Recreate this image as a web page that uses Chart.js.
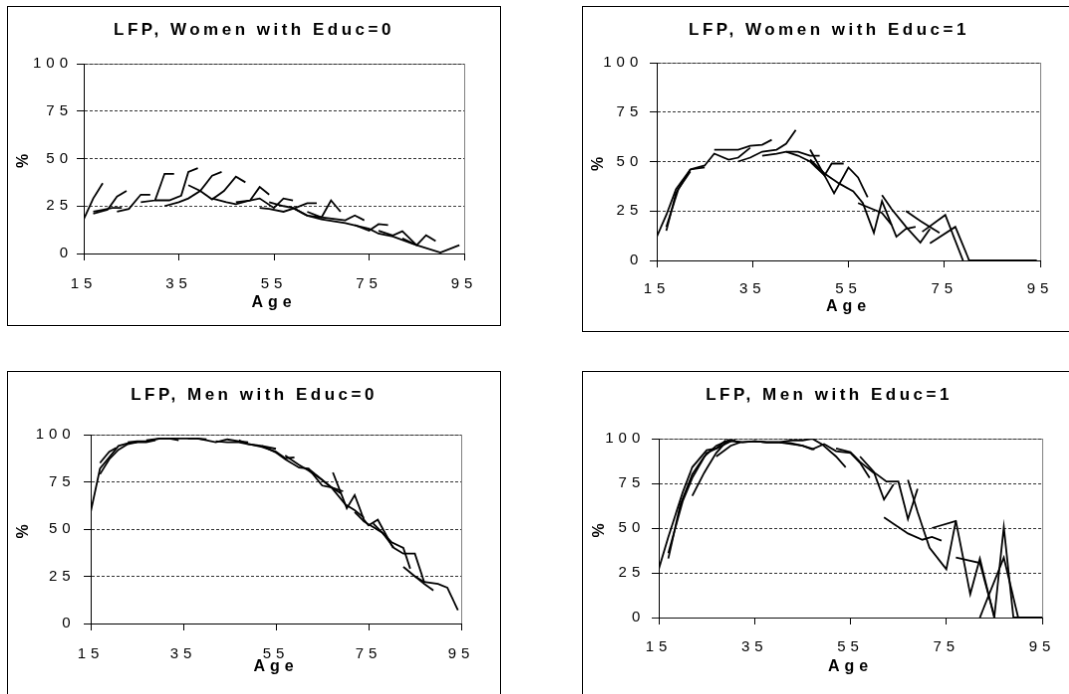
<!DOCTYPE html>
<html>
<head>
<meta charset="utf-8">
<script src="https://cdn.jsdelivr.net/npm/chart.js@4/dist/chart.umd.min.js"></script>
<style>
  body { margin: 0; background: #fff; overflow: hidden; }
  canvas { position: absolute; border: 1px solid #000; }
</style>
</head>
<body>
<canvas id="women0" width="494" height="320" style="left:7px;top:6px"></canvas>
<canvas id="women1" width="494" height="326" style="left:582px;top:6px"></canvas>
<canvas id="men0" width="494" height="330" style="left:7px;top:371px"></canvas>
<canvas id="men1" width="494" height="330" style="left:582px;top:371px"></canvas>
<script>
const xTicks = [15, 35, 55, 75, 95];
const yTicks = [0, 25, 50, 75, 100];

// one line per cohort: ages observed and participation rate (%)
const women0Ages = [
    [15, 17, 19], [17, 19, 21, 23], [17, 20, 22, 24], [22, 24.5, 27, 29],
    [27, 30, 32, 34], [30, 33, 35.5, 37, 39], [32, 35, 37, 39.5, 42, 44],
    [37, 39.5, 42, 44.5, 47, 49], [42, 45, 47, 50, 52, 54], [47, 50, 52, 55, 57, 59],
    [52, 54, 57, 59.5, 62, 64], [54, 57, 59, 62, 65, 67, 69], [62, 65, 70, 72, 74],
    [59, 62, 65, 70, 75, 77, 80, 85, 90, 94], [72, 75, 77, 79], [77, 80, 82, 85],
    [82, 85, 87, 89]
];
const women0Lfp = [
    [18, 29, 37], [22, 23, 24, 24], [21, 23, 30, 33], [22, 23.5, 31, 31],
    [27, 28, 42, 42], [28, 28, 30.5, 43, 45], [25, 27, 29, 33, 41, 43],
    [36, 33, 28.5, 33, 40.5, 37.5], [29, 27, 26, 28, 35, 31], [27, 28, 29, 24, 29, 28],
    [24, 23.5, 22, 24, 26.5, 26.5], [27, 25, 24, 20, 19, 28, 22], [22, 19, 17.5, 20, 17.5],
    [24, 20, 18, 16, 13, 10.5, 9, 4.4, 0.5, 4.4], [15, 12, 15.5, 15], [12, 9.5, 11.7, 4.4],
    [8, 4.4, 9.6, 6.5]
];

const women1Ages = [
    [15, 17, 19, 22], [17, 19, 22, 25], [17, 19.5, 22], [22, 25, 27, 30, 32, 34.5],
    [27, 32, 34.5, 37, 39], [32, 34.5, 37, 40, 42, 44], [37, 40, 42, 44.5, 47, 49],
    [42, 44.5, 47, 50, 52, 55, 57, 59], [47, 50, 51.5, 54],
    [47, 50, 53, 56, 58, 60.3, 62, 65, 67, 69], [57, 62, 64], [62, 64, 67, 70, 72],
    [67, 70, 74], [70.4, 75.2, 78.9], [72, 77.3, 80.2], [80, 85, 90, 94.3]
];
const women1Lfp = [
    [12, 23, 36, 46], [15, 34, 46, 47], [17, 36, 45], [46, 48, 54, 51, 52, 57],
    [56, 56, 58, 58.5, 61], [50, 52, 55, 56, 59, 66], [53, 54, 55, 55, 53, 53],
    [55, 53, 50, 43, 34, 47, 42, 32], [56, 43, 49, 49],
    [51, 44, 39, 35, 29, 14, 30, 12, 16, 17], [29, 24, 18], [33, 26, 17, 9, 16],
    [25, 20, 14], [14.5, 23, 0], [8.7, 17, 0], [0, 0, 0, 0]
];

const men0Ages = [
    [15, 17, 19, 21, 23, 25, 27, 29], [17, 19, 20.5], [17, 19, 21, 23, 25],
    [23, 25, 27, 30, 32, 34], [27, 30, 33, 36, 38, 40], [36, 38, 40, 42, 44.5, 47, 49],
    [42, 44.5, 47, 49, 52, 55], [47, 49, 52, 55, 57, 59], [52, 55, 57, 60, 62, 65, 67, 69],
    [57, 60, 62, 65, 67, 69.5], [62, 64, 67, 70, 72, 74],
    [67.3, 70.3, 72, 74, 75, 77, 80.3], [72, 74, 76, 78, 80, 82.5, 84],
    [76, 78, 80.5, 82.5, 85, 87], [82.5, 85, 87, 89], [85, 87, 90, 92, 94.3]
];
const men0Lfp = [
    [59, 82, 88, 94, 95.5, 96, 96, 97], [85, 91, 93], [79, 87, 92, 95, 96],
    [96, 96.5, 96.5, 98, 98, 97], [97, 98, 98, 98, 98, 97.5], [98, 98, 97, 96, 97.5, 96.5, 96],
    [96.5, 96, 96, 95, 94, 92.5], [97, 95, 93.5, 91, 87.5, 88], [94, 90.5, 87, 82.5, 82, 73, 72, 69],
    [89, 84, 81, 76, 72, 70], [82, 78, 72, 63, 60, 56],
    [80, 61, 68, 55, 52, 55, 40], [59, 54, 51, 48, 43, 40, 29],
    [53, 48, 40, 37, 37, 22], [30, 25, 21, 17.5], [25, 22, 21, 19, 7]
];

const men1Ages = [
    [15, 17, 20, 22, 25, 27, 29], [17, 19.5, 22, 24.5, 27, 29.5, 32], [17, 20, 22, 25, 27.5, 30],
    [22, 24.5, 27, 29, 31], [27, 30, 32, 35, 37.5, 40], [30, 32.5, 35, 37.5, 40, 42.5, 45, 47.5],
    [35, 37.5, 40, 42.5, 45, 47, 49, 52, 54], [40, 42.5, 45, 47, 49.5, 52, 55, 57, 59],
    [52, 55, 57, 60, 62, 64], [57, 60, 62.5, 65, 67, 69], [67, 69, 71.5, 75, 77],
    [62, 67, 70, 72, 74], [72, 77, 80, 82, 85], [77, 82, 85], [82, 87, 90], [85, 87, 89, 92, 95]
];
const men1Lfp = [
    [27, 45, 70, 84, 93.5, 94.5, 99], [33, 63, 80, 90, 96, 99, 98], [36, 65, 78, 92, 95, 98.5],
    [68, 81, 92, 98, 99], [90, 96, 98, 98.5, 98, 98], [99, 98, 98.5, 98, 98, 97.5, 96, 94],
    [98.5, 98, 98, 99, 99, 100, 97, 90, 84], [98, 97, 96, 94, 97, 93, 92, 86.5, 78],
    [94.5, 92.5, 87, 80.5, 66, 74.5], [90, 81, 76, 76, 55, 72], [77, 59, 39, 27, 54],
    [56, 47, 43.5, 45, 43], [50, 54, 13, 33, 0], [33.5, 30.5, 1], [0, 33.5, 0], [0, 50.5, 0, 0, 0]
];

const FONT = '"Liberation Sans", Arial, sans-serif';
const TITLE_SIZE = 17;
const AXIS_TITLE_SIZE = 16;
const TICK_SIZE = 15;
const TICK_SPACING = 5;
const TICK_LEN = 7;

// letter spacing by font size: chart title, axis titles, tick labels
const spacingBySize = {17: '3.5px', 16: '5px', 15: TICK_SPACING + 'px'};

function spaceText(ctx) {
    let fill = ctx.fillText;
    let measure = ctx.measureText;
    let pick = function () {
        let m = /(\d+(\.\d+)?)px/.exec(ctx.font);
        ctx.letterSpacing = (m && spacingBySize[Math.round(+m[1])]) || '0px';
    };
    ctx.fillText = function () { pick(); return fill.apply(ctx, arguments); };
    ctx.measureText = function () { pick(); return measure.apply(ctx, arguments); };
}

// grey frame round the plot area
const framePlugin = {
    id: 'frame',
    beforeDraw: function (chart) {
        let ctx = chart.ctx;
        let a = chart.chartArea;
        ctx.save();
        ctx.strokeStyle = '#808080';
        ctx.lineWidth = 1;
        ctx.strokeRect(Math.round(a.left) + 0.5, Math.round(a.top) + 0.5,
            Math.round(a.right - a.left), Math.round(a.bottom - a.top));
        ctx.restore();
    }
};

function lfpChart(id, title, ages, lfp, box) {
    let ctx = document.getElementById(id).getContext('2d');
    spaceText(ctx);

    let datasets = ages.map(function (cohort, i) {
        return {
            data: cohort.map(function (age, j) { return {x: age, y: lfp[i][j]}; }),
            borderColor: '#000',
            borderWidth: 1.8,
            pointRadius: 0,
            fill: false,
            tension: 0
        };
    });

    let titleHalf = TITLE_SIZE * 0.6;
    let axisHalf = AXIS_TITLE_SIZE * 0.6;
    let tickHalf = TICK_SIZE * 0.6;

    return new Chart(ctx, {
        type: 'line',
        data: {datasets: datasets},
        options: {
            responsive: false,
            animation: false,
            events: [],
            layout: {padding: 0},
            plugins: {
                legend: {display: false},
                tooltip: {enabled: false},
                title: {
                    display: true,
                    text: title,
                    color: '#000',
                    font: {family: FONT, size: TITLE_SIZE, weight: 'bold'},
                    padding: {top: box.titleY - titleHalf, bottom: box.top - box.titleY - titleHalf}
                }
            },
            scales: {
                x: {
                    type: 'linear',
                    min: 15,
                    max: 95,
                    afterBuildTicks: function (s) { s.ticks = xTicks.map(function (v) { return {value: v}; }); },
                    // fixed height; the right-hand margin goes in as the scale's padding so the
                    // title stays centred on the whole panel
                    afterFit: function (s) { s.height = box.bottom; s.paddingLeft = 0; s.paddingRight = box.right; },
                    grid: {drawOnChartArea: false, drawTicks: true, tickLength: TICK_LEN, color: '#000'},
                    border: {color: '#000', width: 1},
                    ticks: {color: '#000', autoSkip: false, maxRotation: 0,
                        padding: box.xLabelY - TICK_LEN - tickHalf,
                        font: {family: FONT, size: TICK_SIZE}},
                    title: {display: true, text: 'Age', color: '#000',
                        font: {family: FONT, size: AXIS_TITLE_SIZE, weight: 'bold'},
                        padding: {top: 0, bottom: box.ageY - axisHalf}}
                },
                y: {
                    min: 0,
                    max: 100,
                    afterBuildTicks: function (s) { s.ticks = yTicks.map(function (v) { return {value: v}; }); },
                    afterFit: function (s) { s.width = box.left; s.paddingTop = 0; s.paddingBottom = 0; },
                    grid: {color: '#333', lineWidth: 1, tickLength: TICK_LEN, tickColor: '#000', tickBorderDash: []},
                    border: {color: '#000', width: 1, dash: [3, 2]},
                    ticks: {color: '#000', padding: box.yLabelGap - TICK_LEN - TICK_SPACING,
                        font: {family: FONT, size: TICK_SIZE}},
                    title: {display: true, text: '%', color: '#000',
                        font: {family: FONT, size: AXIS_TITLE_SIZE, weight: 'bold'},
                        padding: {top: box.pctX - axisHalf, bottom: 0}}
                }
            }
        },
        plugins: [framePlugin]
    });
}

// box: plot margins inside the panel, and text offsets (title centre, tick label
// centre below the axis, "Age" centre above the panel bottom, "%" centre from the left)
lfpChart('women0', 'LFP, Women with Educ=0', women0Ages, women0Lfp,
    {left: 76, right: 36, top: 57, bottom: 72, titleY: 23.5, xLabelY: 31, ageY: 22, yLabelGap: 16, pctX: 16});
lfpChart('women1', 'LFP, Women with Educ=1', women1Ages, women1Lfp,
    {left: 74, right: 35, top: 56, bottom: 71, titleY: 23.5, xLabelY: 29, ageY: 24.5, yLabelGap: 18.7, pctX: 16});
lfpChart('men0', 'LFP, Men with Educ=0', men0Ages, men0Lfp,
    {left: 83, right: 39, top: 63, bottom: 77, titleY: 23, xLabelY: 31, ageY: 33.5, yLabelGap: 20.3, pctX: 16});
lfpChart('men1', 'LFP, Men with Educ=1', men1Ages, men1Lfp,
    {left: 76, right: 33, top: 67, bottom: 83, titleY: 23, xLabelY: 30, ageY: 33.5, yLabelGap: 18.7, pctX: 17});
</script>
</body>
</html>
